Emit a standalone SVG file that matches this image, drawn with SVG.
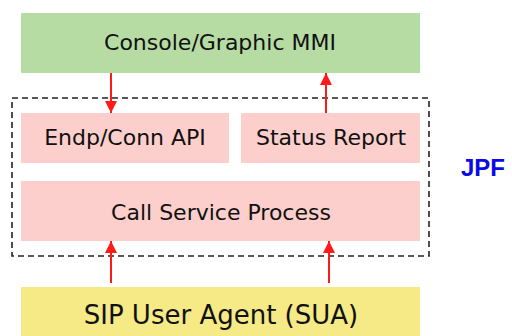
<svg xmlns="http://www.w3.org/2000/svg" width="512" height="336" viewBox="0 0 512 336">
<defs>
<style>
.lbl{font-family:"DejaVu Sans",Verdana,sans-serif;font-size:22px;fill:#111;text-anchor:middle}
.green{fill:#b6dca4}
.pink{fill:#fccfcc}
.yellow{fill:#f5ea85}
.conn{stroke:#ff1a1a;stroke-width:2;fill:none;marker-end:url(#ah)}
.frame{fill:none;stroke:#222;stroke-width:1.6;stroke-dasharray:6 4}
</style>
<marker id="ah" viewBox="0 0 10 10" refX="10" refY="5" markerWidth="6" markerHeight="6" markerUnits="strokeWidth" orient="auto">
<path d="M0,0 L10,5 L0,10 z" fill="#ff1a1a"/>
</marker>
</defs>
<rect width="512" height="336" fill="#fff"/>
<g id="jpf-frame">
<rect class="frame" x="12" y="98" width="417" height="158"/>
<text x="461" y="176" font-family="'Liberation Sans',Arial,sans-serif" font-weight="bold" font-size="24" fill="#0a0ae6">JPF</text>
</g>
<g id="console">
<rect class="green" x="21" y="13" width="399" height="60"/>
<text class="lbl" x="220" y="50">Console/Graphic MMI</text>
</g>
<g id="endp">
<rect class="pink" x="21" y="113" width="208" height="50"/>
<text class="lbl" x="125" y="145">Endp/Conn API</text>
</g>
<g id="status">
<rect class="pink" x="241" y="113" width="179" height="50"/>
<text class="lbl" x="331" y="145">Status Report</text>
</g>
<g id="callservice">
<rect class="pink" x="21" y="181" width="399" height="60"/>
<text class="lbl" x="221" y="220">Call Service Process</text>
</g>
<g id="sua">
<rect class="yellow" x="21" y="287" width="399" height="49"/>
<text class="lbl" x="221" y="324" style="font-size:26px">SIP User Agent (SUA)</text>
</g>
<g id="connectors">
<line class="conn" x1="111" y1="73" x2="111" y2="113"/>
<line class="conn" x1="326" y1="113" x2="326" y2="73"/>
<line class="conn" x1="111" y1="283" x2="111" y2="241"/>
<line class="conn" x1="329" y1="283" x2="329" y2="241"/>
</g>
</svg>
